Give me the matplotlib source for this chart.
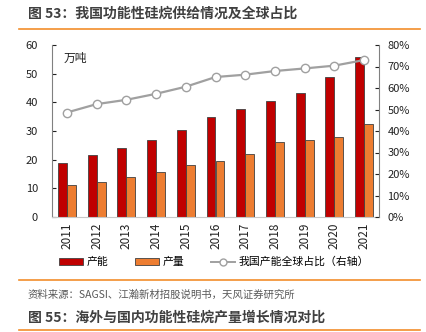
import matplotlib
matplotlib.use("Agg")
import matplotlib.pyplot as plt
from matplotlib.lines import Line2D
from matplotlib.patches import Patch
import numpy as np

plt.rcParams['font.family'] = ['Noto Sans CJK SC', 'DejaVu Sans']

years = ["2011", "2012", "2013", "2014", "2015", "2016", "2017", "2018", "2019", "2020", "2021"]
capacity = [18.8, 21.7, 24.0, 26.7, 30.4, 34.9, 37.7, 40.4, 43.1, 49.0, 55.8]
output = [11.1, 12.3, 13.9, 15.8, 18.2, 19.7, 22.1, 26.0, 26.9, 27.8, 32.3]
share = [48.6, 52.5, 54.5, 57.3, 60.6, 65.1, 66.2, 67.9, 69.1, 70.4, 73.0]

left_ticks = [0, 10, 20, 30, 40, 50, 60]
right_ticks = [0, 10, 20, 30, 40, 50, 60, 70, 80]

fig = plt.figure(figsize=(4.27, 3.32), dpi=100)
W, H = 427, 332
ax = fig.add_axes([52 / W, 1 - 217 / H, (379 - 52) / W, (217 - 45) / H])
x = np.arange(len(years))
bw = 0.3
ax.bar(x - bw / 2, capacity, bw, color="#C00000", edgecolor="#404040", linewidth=0.6, zorder=2)
ax.bar(x + bw / 2, output, bw, color="#ED7D31", edgecolor="#404040", linewidth=0.6, zorder=2)
ax.set_xlim(-0.5, len(years) - 0.5)
ax.set_ylim(0, 60)
ax.set_yticks(left_ticks)
ax.set_xticks(x)
ax.set_xticklabels(years, rotation=90, fontsize=8.5, color="#222222")
ax.tick_params(axis='y', direction='in', length=3, labelsize=8, colors="#222222", pad=10)
ax.tick_params(axis='x', length=0, pad=4)
for s in ['top', 'right']:
    ax.spines[s].set_visible(False)
ax.spines['left'].set_color("#808080")
ax.spines['bottom'].set_color("#C8C8C8")
ax.text(0.035, 0.96, "万吨", transform=ax.transAxes, fontsize=8.5, va='top', ha='left', color="#222222")

ax2 = ax.twinx()
ax2.plot(x, share, color="#A0A0A0", linewidth=1.6, marker='o', markersize=6,
         markerfacecolor='white', markeredgecolor="#A0A0A0", markeredgewidth=1.0, zorder=3)
ax2.set_ylim(0, 80)
ax2.set_yticks(right_ticks)
ax2.set_yticklabels([f"{t}%" for t in right_ticks])
ax2.tick_params(axis='y', direction='in', length=3, labelsize=8, colors="#222222", pad=6)
for s in ['top', 'left', 'bottom']:
    ax2.spines[s].set_visible(False)
ax2.spines['right'].set_color("#808080")

handles = [Patch(facecolor="#C00000", edgecolor="#404040", linewidth=0.6),
           Patch(facecolor="#ED7D31", edgecolor="#404040", linewidth=0.6),
           Line2D([0], [0], color="#A0A0A0", linewidth=1.4, marker='o', markersize=5,
                  markerfacecolor='white', markeredgecolor="#A0A0A0")]
labels = ["产能", "产量", "我国产能全球占比（右轴）"]
fig.legend(handles, labels, loc='center', bbox_to_anchor=(214 / W, 1 - 262 / H), ncol=3,
           frameon=False, fontsize=7.8, handlelength=2.2, handleheight=0.6, columnspacing=2.5,
           handletextpad=0.3)

fig.text(28 / W, 1 - 14 / H, "图 53：我国功能性硅烷供给情况及全球占比", fontsize=10, fontweight='bold',
         color="#404040", va='center', ha='left')
fig.text(28 / W, 1 - 295 / H, "资料来源：SAGSI、江瀚新材招股说明书，天风证券研究所", fontsize=7.5,
         color="#595959", va='center', ha='left')
fig.text(28 / W, 1 - 318 / H, "图 55：海外与国内功能性硅烷产量增长情况对比", fontsize=10, fontweight='bold',
         color="#404040", va='center', ha='left')
for yy in [28.5, 280, 330]:
    fig.add_artist(Line2D([19 / W, 420 / W], [1 - yy / H, 1 - yy / H], color="#F28E2B", linewidth=1.2))

fig.savefig("out.png", dpi=100)
